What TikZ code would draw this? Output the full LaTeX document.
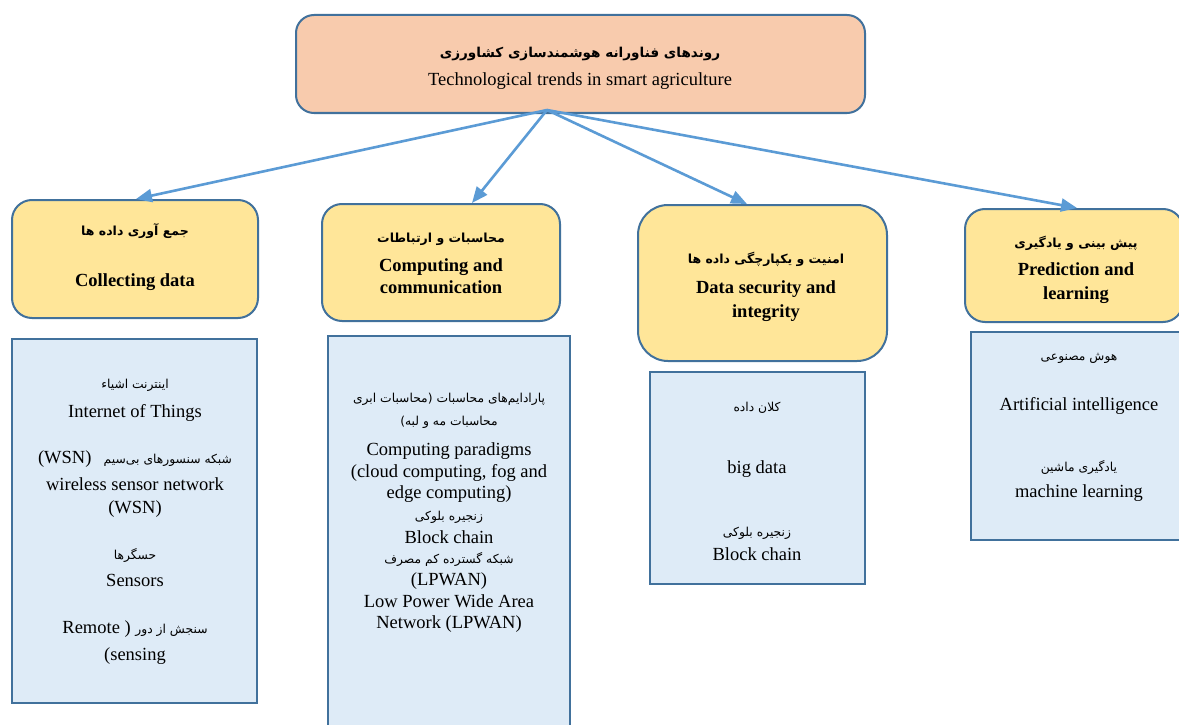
\documentclass[tikz,border=0pt]{standalone}
\usepackage{fontspec}
\setmainfont{Liberation Serif}
\newfontfamily\fa[Script=Arabic]{DejaVu Sans}
\TeXXeTstate=1
\usetikzlibrary{arrows.meta}
\definecolor{peach}{HTML}{F8CBAD}
\definecolor{yel}{HTML}{FFE699}
\definecolor{lblue}{HTML}{DEEBF7}
\definecolor{bord}{HTML}{41719C}
\definecolor{arr}{HTML}{5B9BD5}
\tikzset{
  topbox/.style={draw=bord, line width=2pt, fill=peach, rounded corners=18pt, inner sep=0pt},
  ybox/.style={draw=bord, line width=2pt, fill=yel, rounded corners=20pt, inner sep=0pt},
  bbox/.style={draw=bord, line width=2.4pt, fill=lblue, inner sep=0pt},
  conn/.style={draw=arr, line width=2.6pt, -{Triangle[length=16pt,width=13pt]}},
  en/.style={inner sep=0pt, anchor=base, font=\fontsize{18.5}{21}\selectfont},
  enb/.style={inner sep=0pt, anchor=base, font=\fontsize{18.5}{21}\selectfont\bfseries},
  fat/.style={inner sep=0pt, anchor=base, font=\fontsize{12.3}{14}\selectfont\fa},
  fatb/.style={inner sep=0pt, anchor=base, font=\fontsize{12.5}{14}\selectfont\fa\bfseries},
}
\begin{document}
\begin{tikzpicture}[x=1pt,y=-1pt]
\useasboundingbox (0,0) rectangle (1179,725);
\fill[white] (0,0) rectangle (1179,725);
% boxes
\node[topbox, minimum width=569pt, minimum height=98pt] (top) at (580.5,64) {};
\node[ybox, minimum width=246pt, minimum height=118pt] (y1) at (135,259) {};
\node[ybox, minimum width=238pt, minimum height=117pt] (y2) at (441,262.5) {};
\node[ybox, rounded corners=30pt, minimum width=249pt, minimum height=156pt] (y3) at (762.5,283) {};
\node[ybox, minimum width=218pt, minimum height=113pt] (y4) at (1074,265.5) {};
\node[bbox, minimum width=245pt, minimum height=364pt] (b1) at (134.5,521) {};
\node[bbox, minimum width=242pt, minimum height=404pt] (b2) at (449,538) {};
\node[bbox, minimum width=215pt, minimum height=212pt] (b3) at (757.5,478) {};
\node[bbox, minimum width=215pt, minimum height=208pt] (b4) at (1078.5,436) {};
% connectors
\coordinate (src) at (547,110);
\draw[conn] (src) -- ([xshift=1pt]y1.north);
\draw[conn] (src) -- ([xshift=31pt]y2.north);
\draw[conn] (src) -- ([xshift=-15.5pt]y3.north);
\draw[conn] (src) -- ([xshift=3pt]y4.north);
% top texts
\node[fatb, font=\fontsize{13.6}{15}\selectfont\fa\bfseries] (t1) at (580,58) {\beginR روندهای فناورانه هوشمندسازی کشاورزی\endR};
\node[en] (t2) at (580,86) {Technological trends in smart agriculture};
% yellow 1
\node[fatb] (y1a) at (135,235) {\beginR جمع آوری داده ها\endR};
\node[enb] (y1b) at (135,286) {Collecting data};
% yellow 2
\node[fatb] (y2a) at (441,242) {\beginR محاسبات و ارتباطات\endR};
\node[enb] (y2b) at (441,271) {Computing and};
\node[enb] (y2c) at (441,293) {communication};
% yellow 3
\node[fatb] (y3a) at (766,263) {\beginR امنیت و یکپارچگی داده ها\endR};
\node[enb] (y3b) at (766,293) {Data security and};
\node[enb] (y3c) at (766,317) {integrity};
% yellow 4
\node[fatb] (y4a) at (1076,247) {\beginR پیش بینی و یادگیری\endR};
\node[enb] (y4b) at (1076,275) {Prediction and};
\node[enb] (y4c) at (1076,299) {learning};
% blue 1
\node[fat] (b1a) at (135,388) {\beginR اینترنت اشیاء\endR};
\node[en] (b1b) at (135,417) {Internet of Things};
\node[fat] (b1c) at (135,463) {\beginR شبکه سنسورهای بی‌سیم\quad\beginL{\rmfamily\fontsize{18.5}{21}\selectfont (WSN)}\endL\endR};
\node[en] (b1d) at (135,490) {wireless sensor network};
\node[en] (b1e) at (135,513) {(WSN)};
\node[fat] (b1f) at (135,559) {\beginR حسگرها\endR};
\node[en] (b1g) at (135,586) {Sensors};
\node[en] (b1h) at (135,633) {Remote ) {\fa\fontsize{12.3}{14}\selectfont\beginR سنجش از دور\endR}};
\node[en] (b1i) at (135,660) {(sensing};
% blue 2
\node[fat] (b2a) at (449,402) {\beginR پارادایم‌های محاسبات (محاسبات ابری\endR};
\node[fat] (b2b) at (449,425) {\beginR محاسبات مه و لبه)\endR};
\node[en] (b2c) at (449,455) {Computing paradigms};
\node[en] (b2d) at (449,477) {(cloud computing, fog and};
\node[en] (b2e) at (449,498) {edge computing)};
\node[fat] (b2f) at (449,520) {\beginR زنجیره بلوکی\endR};
\node[en] (b2g) at (449,543) {Block chain};
\node[fat] (b2h) at (449,563) {\beginR شبکه گسترده کم مصرف\endR};
\node[en] (b2i) at (449,585) {(LPWAN)};
\node[en] (b2j) at (449,607) {Low Power Wide Area};
\node[en] (b2k) at (449,628) {Network (LPWAN)};
% blue 3
\node[fat] (b3a) at (757,411) {\beginR کلان داده\endR};
\node[en] (b3b) at (757,473) {big data};
\node[fat] (b3c) at (757,536) {\beginR زنجیره بلوکی\endR};
\node[en] (b3d) at (757,560) {Block chain};
% blue 4
\node[fat] (b4a) at (1079,360) {\beginR هوش مصنوعی\endR};
\node[en] (b4b) at (1079,410) {Artificial intelligence};
\node[fat] (b4c) at (1079,471) {\beginR یادگیری ماشین\endR};
\node[en] (b4d) at (1079,497) {machine learning};
\end{tikzpicture}
\end{document}
